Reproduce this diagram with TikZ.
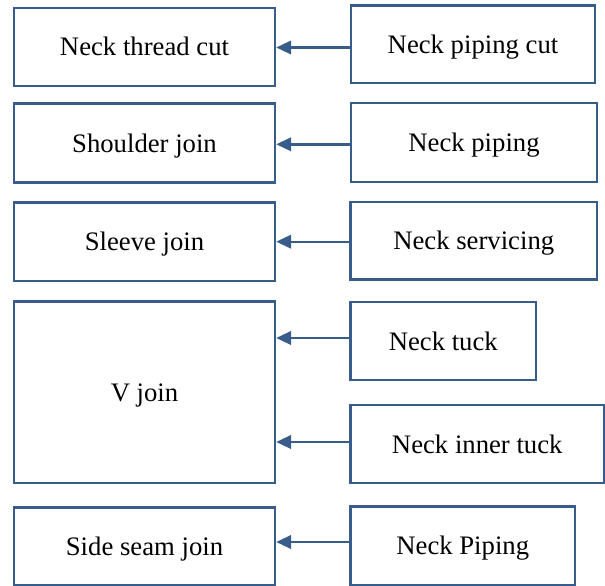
\documentclass[tikz,border=0pt]{standalone}
\usepackage{fontspec}
\setmainfont{Liberation Serif}
\newfontfamily\tnrfont{Liberation Serif}
\usetikzlibrary{arrows.meta}
\definecolor{boxblue}{RGB}{56,93,138}
\begin{document}
\begin{tikzpicture}[x=1pt,y=-1pt,
  box/.style={draw=boxblue, line width=2.4pt, fill=white, inner sep=0pt,
    text height=18pt, text depth=0pt, font=\tnrfont\fontsize{26.7}{30}\selectfont},
  arr/.style={draw=boxblue, line width=2.4pt, -{Triangle[length=15pt,width=13.5pt]}}]
\useasboundingbox (0,0) rectangle (605,586);
% left column
\node[box, minimum width=261pt, minimum height=78pt]   (L1) at (144.5,47)     {Neck thread cut};
\node[box, minimum width=261pt, minimum height=79pt]   (L2) at (144.5,143)    {Shoulder join};
\node[box, minimum width=261pt, minimum height=78.5pt] (L3) at (144.5,241.75) {Sleeve join};
\node[box, minimum width=261pt, minimum height=181.5pt](L4) at (144.5,392.25) {V join};
\node[box, minimum width=261pt, minimum height=77.5pt] (L5) at (144.5,546.25) {Side seam join};
% right column
\node[box, minimum width=244pt, minimum height=77.5pt]   (R1) at (473,44.25)    {Neck piping cut};
\node[box, minimum width=246pt, minimum height=79pt]     (R2) at (474,142.5)    {Neck piping};
\node[box, minimum width=246.5pt, minimum height=77.5pt] (R3) at (473.75,240.75){Neck servicing};
\node[box, minimum width=185.5pt, minimum height=78pt]   (R4) at (443.25,341)   {Neck tuck};
\node[box, minimum width=253.5pt, minimum height=78pt]   (R5) at (477.25,444)   {Neck inner tuck};
\node[box, minimum width=224.5pt, minimum height=78.5pt] (R6) at (462.75,545.75){Neck Piping};
% arrow heights
\coordinate (y1) at (0,47.5);
\coordinate (y2) at (0,144.3);
\coordinate (y3) at (0,241.7);
\coordinate (y4) at (0,338);
\coordinate (y5) at (0,442);
\coordinate (y6) at (0,542);
\draw[arr] (R1.west |- y1) -- (L1.east |- y1);
\draw[arr] (R2.west |- y2) -- (L2.east |- y2);
\draw[arr] (R3.west |- y3) -- (L3.east |- y3);
\draw[arr] (R4.west |- y4) -- (L4.east |- y4);
\draw[arr] (R5.west |- y5) -- (L4.east |- y5);
\draw[arr] (R6.west |- y6) -- (L5.east |- y6);
\end{tikzpicture}
\end{document}
